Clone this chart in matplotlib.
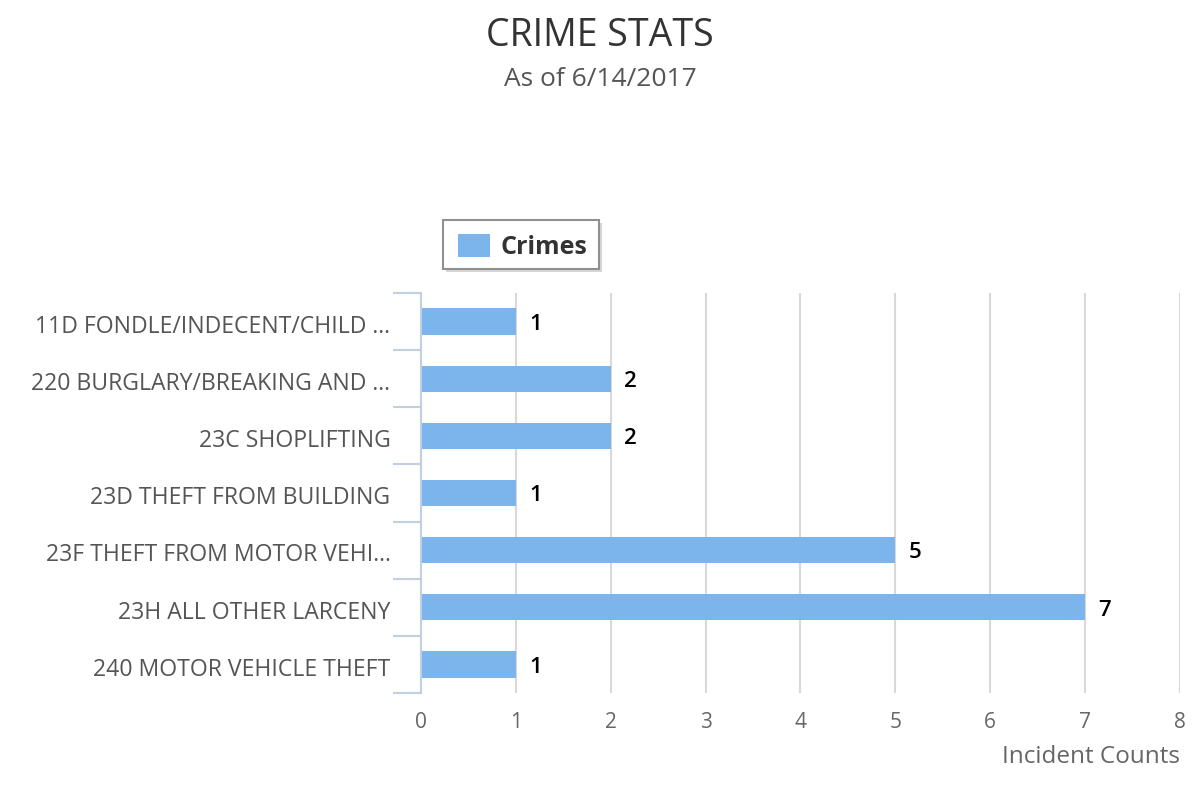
import matplotlib.pyplot as plt
import numpy as np
from matplotlib.patches import FancyBboxPatch

plt.rcParams['font.family'] = ['Open Sans', 'DejaVu Sans']

categories = [
    '11D FONDLE/INDECENT/CHILD ...',
    '220 BURGLARY/BREAKING AND ...',
    '23C SHOPLIFTING',
    '23D THEFT FROM BUILDING',
    '23F THEFT FROM MOTOR VEHI...',
    '23H ALL OTHER LARCENY',
    '240 MOTOR VEHICLE THEFT',
]
counts = [1, 2, 2, 1, 5, 7, 1]
x_ticks = [0, 1, 2, 3, 4, 5, 6, 7, 8]

bar_color = '#7CB5EC'
axis_color = '#C0D0E0'
grid_color = '#D8D8D8'

fig = plt.figure(figsize=(12, 8), dpi=100)
ax = fig.add_axes([0.3508, 0.13375, 0.6325, 0.5])

y = np.arange(len(categories))
bars = ax.barh(y, counts, height=0.46, color=bar_color, zorder=3,
               label='Crimes')

ax.set_ylim(len(categories) - 0.5, -0.5)
ax.set_xlim(0, 8)
ax.set_xticks(x_ticks)
ax.set_xticklabels([str(t) for t in x_ticks], fontsize=15, color='#666666')
ax.tick_params(axis='x', length=0, pad=14)

# category labels, ticks on band boundaries
ax.set_yticks(y + 0.04)
ax.set_yticklabels(categories, fontsize=16.6, color='#555555')
ax.tick_params(axis='y', which='major', length=0, pad=22)
ax.set_yticks(np.arange(-0.5, len(categories)), minor=True)
ax.tick_params(axis='y', which='minor', length=20, width=1.5,
               color=axis_color)

ax.grid(axis='x', color=grid_color, linewidth=1.5, zorder=0)
for side in ['top', 'right', 'bottom']:
    ax.spines[side].set_visible(False)
ax.spines['left'].set_color(axis_color)
ax.spines['left'].set_linewidth(1.5)
ax.spines['left'].set_zorder(4)

for b, v in zip(bars, counts):
    ax.text(v + 0.14, b.get_y() + b.get_height() / 2 + 0.05, str(v),
            va='center', ha='left', fontsize=16, fontweight='semibold',
            color='black')

fig.text(1180 / 1200, 1 - 757 / 800, 'Incident Counts', ha='right',
         va='center', fontsize=17.5, color='#666666')

fig.text(0.5, 1 - 36 / 800, 'CRIME STATS', ha='center', va='center',
         fontsize=27, color='#333333')
fig.text(0.5, 1 - 79 / 800, 'As of 6/14/2017', ha='center', va='center',
         fontsize=19, color='#555555')

# legend box drawn like the reference
shadow = FancyBboxPatch((446 / 1200, 1 - 272 / 800), 156 / 1200, 49 / 800,
                        boxstyle='square,pad=0', transform=fig.transFigure,
                        facecolor='#BBBBBB', edgecolor='none', alpha=0.6)
box = FancyBboxPatch((443 / 1200, 1 - 269 / 800), 156 / 1200, 49 / 800,
                     boxstyle='square,pad=0', transform=fig.transFigure,
                     facecolor='white', edgecolor='#909090', linewidth=1.5)
fig.patches.extend([shadow, box])
sym = plt.Rectangle((458 / 1200, 1 - 257 / 800), 32 / 1200, 23 / 800,
                    transform=fig.transFigure, facecolor=bar_color,
                    edgecolor='none')
fig.patches.append(sym)
fig.text(500 / 1200, 1 - 248 / 800, 'Crimes', ha='left', va='center',
         fontsize=18, fontweight='bold', color='#333333')

fig.savefig('out.png', dpi=100)
